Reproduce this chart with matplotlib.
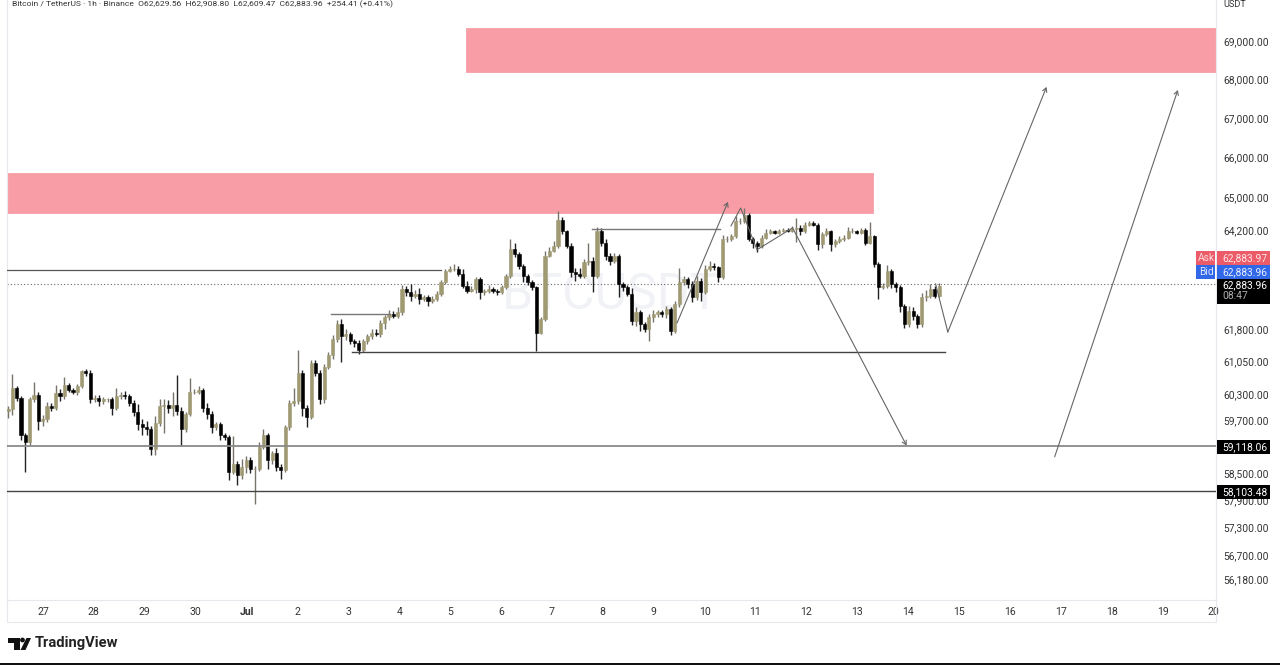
import numpy as np
import matplotlib
matplotlib.use("Agg")
import matplotlib.pyplot as plt
from matplotlib.patches import Circle, Polygon, Rectangle

plt.rcParams["font.family"] = ["Roboto", "DejaVu Sans"]

# candles, about 2h apart, open = previous close
start_day = -0.688
bar_days = 0.0851
first_open = 59900
closes = [
    59940, 60430, 60200, 59350, 59200, 60170, 60280, 59680, 59720, 60020,
    59980, 60320, 60240, 60510, 60390, 60350, 60470, 60820, 60780, 60170,
    60200, 60130, 60170, 60170, 59980, 60240, 60280, 60240, 60090, 59870,
    59610, 59530, 59500, 59050, 59640, 60020, 60050, 59980, 60050, 59910,
    59500, 59830, 60350, 60350, 60390, 59980, 59830, 59530, 59610, 59350,
    59310, 58530, 58710, 58450, 58640, 58790, 58600, 58600, 59090, 59350,
    58790, 58940, 58640, 58560, 59530, 60090, 60130, 60780, 59980, 59760,
    61020, 60780, 60170,
    60924, 61204, 61564, 61924, 61644, 61684, 61524, 61484, 61324, 61524,
    61644, 61724, 61684, 61964, 62084, 62164, 62124, 62204, 62764, 62684,
    62604, 62644, 62524, 62564, 62484, 62524, 62644, 62924, 63204, 63244,
    63244, 63124, 62844, 62724, 62764, 63004, 62684, 62724, 62764, 62724,
    62684, 62804, 63084, 63724, 63604, 63324, 63084, 62924, 62804, 61724,
    62044, 63564, 63684, 63804, 64444, 64164, 63804, 63164, 63124, 63084,
    63404, 63444, 63084, 64164, 63884, 63564, 63444, 63564, 62884, 62804,
    62644, 62004, 62204, 61924, 61804,
    62084, 62164, 62204, 62164, 62284, 61764, 62404, 62924, 63004, 62884,
    62564, 62964, 62684, 63244, 63324, 63284, 63044, 63964, 63964, 64044,
    64404, 64404, 64564, 63964, 63884, 63804, 64004, 64124, 64164, 64124,
    64164, 64204, 64164, 64220, 64244, 64164, 64324, 64364, 64324, 63844,
    64084, 64164, 63844, 63924, 63964, 64004, 64164, 64164, 64124, 64204,
    63884, 64044, 63364, 62804, 62844, 63204, 62884, 62804, 62364, 61924,
    62244, 62124, 61924, 62564, 62604, 62764, 62604, 62844,
]
upper_wick = [
    80, 320, 60, 40, 60, 50, 280, 60, 100, 80,
    60, 180, 90, 180, 40, 50, 60, 40, 60, 70,
    60, 70, 60, 40, 50, 190, 60, 80, 60, 60,
    200, 120, 150, 60, 150, 160, 120, 100, 300, 690,
    80, 60, 320, 60, 100, 40, 100, 70, 50, 50,
    60, 40, 620, 50, 180, 100, 70, 60, 100, 140,
    60, 50, 120, 60, 50, 70, 300, 530, 60, 60,
    70, 60, 80,
    60, 60, 100, 100, 120, 120, 60, 50, 70, 60,
    60, 80, 90, 60, 60, 100, 80, 130, 100, 60,
    200, 100, 150, 60, 60, 80, 60, 60, 40, 80,
    120, 80, 110, 100, 60, 40, 40, 30, 100, 40,
    50, 60, 40, 250, 150, 60, 40, 50, 60, 40,
    60, 120, 100, 110, 220, 60, 40, 60, 100, 150,
    80, 440, 80, 100, 70, 100, 60, 70, 40, 40,
    60, 150, 120, 60, 50,
    80, 90, 60, 50, 80, 40, 60, 336, 60, 40,
    60, 120, 60, 100, 120, 60, 40, 100, 70, 60,
    130, 90, 180, 50, 60, 40, 60, 100, 60, 40,
    50, 40, 30, 60, 240, 60, 60, 50, 40, 30,
    70, 80, 40, 60, 70, 60, 100, 80, 40, 40,
    30, 340, 30, 40, 70, 130, 50, 40, 60, 30,
    120, 80, 30, 100, 130, 130, 80, 70,
]
lower_wick = [
    150, 120, 60, 100, 670, 80, 50, 200, 120, 60,
    80, 60, 100, 50, 60, 60, 80, 40, 60, 90,
    60, 100, 70, 60, 170, 60, 70, 60, 60, 80,
    150, 180, 150, 150, 150, 70, 620, 120, 200, 100,
    400, 80, 50, 60, 50, 100, 100, 120, 60, 100,
    70, 180, 60, 210, 80, 130, 100, 780, 60, 60,
    190, 80, 90, 200, 40, 60, 60, 60, 200, 220,
    50, 80, 100,
    80, 60, 100, 60, 600, 100, 70, 100, 100, 60,
    60, 70, 50, 60, 150, 60, 60, 50, 60, 90,
    120, 50, 110, 60, 120, 60, 40, 40, 50, 30,
    40, 50, 60, 50, 40, 90, 170, 60, 50, 60,
    70, 40, 40, 50, 60, 70, 150, 60, 70, 440,
    40, 50, 40, 40, 50, 60, 40, 120, 160, 60,
    60, 70, 400, 50, 80, 110, 100, 60, 320, 100,
    60, 100, 120, 150, 60,
    280, 100, 70, 60, 90, 100, 50, 60, 70, 100,
    120, 60, 200, 40, 50, 60, 110, 40, 60, 50,
    40, 60, 50, 50, 130, 160, 60, 40, 30, 40,
    30, 30, 30, 30, 320, 90, 40, 30, 30, 130,
    80, 40, 170, 60, 50, 30, 40, 50, 30, 30,
    60, 40, 60, 280, 40, 50, 90, 110, 160, 80,
    60, 100, 100, 60, 80, 60, 50, 40,
]

# axis labels
price_ticks = [69000, 68000, 67000, 66000, 65000, 64200, 61800, 61050, 60300, 59700,
               58500, 57900, 57300, 56700, 56180]
day_ticks = list(range(24))
day_labels = ["27", "28", "29", "30", "Jul", "2", "3", "4", "5", "6", "7", "8", "9", "10",
              "11", "12", "13", "14", "15", "16", "17", "18", "19", "20"]

# drawn levels and zones (day, price)
last_price = 62883.96
zone_upper = [8.31, 23.05, 68188, 69343]
zone_lower = [-0.71, 16.31, 64613, 65607]
level_a = [-0.71, 7.82, 63220]
level_b = [5.66, 6.82, 62170]
level_c = [6.07, 17.72, 61275]
level_d = [10.79, 13.30, 64220]
level_e = 59118.06
level_f = 58103.48
arrow_up_x = [12.46, 13.46]
arrow_up_y = [61954, 64887]
zigzag_x = [13.52, 13.71, 14.03, 14.73, 16.97]
zigzag_y = [64295, 64735, 63710, 64245, 59118]
swing_x = [17.54, 17.78, 19.72]
swing_y = [62884, 61740, 67800]
long_x = [19.88, 22.30]
long_y = [58865, 67720]

W, H = 1280, 665
fig = plt.figure(figsize=(W / 100, H / 100), dpi=100, facecolor="white")
ax = fig.add_axes([7 / W, 1 - 600 / H, 1209 / W, 600 / H])
ax.set_yscale("log")
ax.set_xlim(-0.707, 23.05)
ax.set_ylim(55731, 70089)

closes = np.array(closes, dtype=float)
opens = np.r_[first_open, closes[:-1]]
xs = start_day + np.arange(len(closes)) * bar_days
tops = np.maximum(opens, closes)
bottoms = np.minimum(opens, closes)
highs = tops + np.array(upper_wick)
lows = bottoms - np.array(lower_wick)
up = closes >= opens

tan = "#a09a72"
ax.vlines(xs[up], lows[up], highs[up], color="#77756a", lw=1.0, zorder=3)
ax.vlines(xs[~up], lows[~up], highs[~up], color="#222222", lw=1.0, zorder=3)
ax.bar(xs[up], tops[up] - bottoms[up], bottom=bottoms[up], width=0.062, color=tan,
       edgecolor=tan, lw=0.4, zorder=4)
ax.bar(xs[~up], tops[~up] - bottoms[~up], bottom=bottoms[~up], width=0.062, color="black",
       edgecolor="black", lw=0.4, zorder=4)

# zones
for z in (zone_upper, zone_lower):
    ax.add_patch(Rectangle((z[0], z[2]), z[1] - z[0], z[3] - z[2], facecolor="#f89da5",
                           edgecolor="#f4a0a8", lw=0.6, zorder=2))

# levels
ax.axhline(last_price, color="#666666", lw=0.8, ls=(0, (1, 2)), zorder=2)
for lv, c, w in ((level_a, "#555555", 0.9), (level_b, "#777777", 1.0),
                 (level_c, "#444444", 1.0), (level_d, "#777777", 1.0)):
    ax.plot(lv[:2], [lv[2], lv[2]], color=c, lw=w, zorder=5)
ax.axhline(level_e, color="#8a8a8a", lw=1.3, zorder=5)
ax.axhline(level_f, color="#444444", lw=1.0, zorder=5)

# arrows
line_col = "#666666"
def path_arrow(px, py):
    ax.plot(px[:-1], py[:-1], color=line_col, lw=0.8, zorder=6)
    ax.annotate("", xy=(px[-1], py[-1]), xytext=(px[-2], py[-2]), zorder=6,
                arrowprops=dict(arrowstyle="->,head_length=0.28,head_width=0.16", color=line_col,
                                lw=0.8, shrinkA=0, shrinkB=0))

path_arrow(arrow_up_x, arrow_up_y)
path_arrow(zigzag_x, zigzag_y)
path_arrow(swing_x, swing_y)
path_arrow(long_x, long_y)

# axes look
ax.yaxis.tick_right()
ax.set_yticks(price_ticks)
ax.set_yticklabels([f"{p:,.2f}" for p in price_ticks], fontsize=7.4, color="#333333")
ax.minorticks_off()
ax.tick_params(axis="y", length=0, pad=5)
ax.set_xticks(day_ticks)
ax.set_xticklabels(day_labels, fontsize=7.6, color="#333333")
ax.get_xticklabels()[4].set_fontweight("bold")
ax.tick_params(axis="x", length=0, pad=5)
ax.spines["top"].set_visible(False)
for name in ("left", "right", "bottom"):
    ax.spines[name].set_color("#e6e8ee")
    ax.spines[name].set_linewidth(0.8)

def px_text(x, y, s, **kw):
    return fig.text(x / W, 1 - y / H, s, va="center", **kw)

def px_box(x0, y0, x1, y1, color, **kw):
    fig.add_artist(Rectangle((x0 / W, 1 - y1 / H), (x1 - x0) / W, (y1 - y0) / H, facecolor=color,
                             edgecolor="none", transform=fig.transFigure, zorder=8, **kw))

# watermark
ax.text(0.4996, 0.508, "BTCUSDT", transform=ax.transAxes, fontsize=36,
        color="#f0f2f6", ha="center", va="center", zorder=1)

# header
px_text(12, 4.5, "Bitcoin / TetherUS · 1h · Binance  O62,629.56  H62,908.80  L62,609.47  C62,883.96  +254.41 (+0.41%)",
        fontsize=6.1, color="#333333")
px_text(1235, 4.5, "USDT", fontsize=6.6, color="#333333", ha="center")

# price labels
px_box(1196, 251, 1215, 265, "#ec5c68")
px_box(1217, 251, 1270, 265, "#ec5c68")
px_box(1196, 265, 1215, 279, "#3168e8")
px_box(1217, 265, 1270, 279, "#3168e8")
px_box(1217, 279, 1270, 304, "black")
px_box(1217, 440, 1270, 454, "black")
px_box(1217, 485, 1270, 499, "black")
labels = [(1206, 258, "Ask", "#ffd9dc", "center"), (1222, 258, "62,883.97", "#ffe5e7", "left"),
          (1206, 272, "Bid", "#dfe7ff", "center"), (1222, 272, "62,883.96", "#e8eeff", "left"),
          (1222, 285, "62,883.96", "white", "left"), (1222, 296, "08:47", "#b0b0b0", "left"),
          (1222, 447, "59,118.06", "white", "left"), (1222, 492, "58,103.48", "white", "left")]
for x, y, s, c, ha in labels:
    px_text(x, y, s, fontsize=7.4, color=c, ha=ha, zorder=9)

# footer
fig.add_artist(plt.Line2D([7 / W, 1216 / W], [1 - 622 / H] * 2, color="#e6e8ee", lw=0.8))
fig.add_artist(plt.Line2D([7 / W, 7 / W], [1 - 622 / H, 1 - 600 / H], color="#e6e8ee", lw=0.8))
fig.add_artist(plt.Line2D([1216 / W, 1216 / W], [1 - 622 / H, 1 - 600 / H], color="#e6e8ee", lw=0.8))
fig.add_artist(Rectangle((0, 0), 1, 2.5 / H, facecolor="#111111", edgecolor="none", transform=fig.transFigure))
px_box(8, 638, 19.5, 642.5, "#111111")
px_box(13.5, 638, 19.5, 650, "#111111")
fig.add_artist(Circle((22.5, H - 640), 2.4, transform=None, facecolor="#111111", edgecolor="none"))
fig.add_artist(Polygon([(26.5, H - 638), (31, H - 638), (25.5, H - 650), (20.5, H - 650)], closed=True,
                       transform=None, facecolor="#111111", edgecolor="none"))
px_text(34.5, 643.5, "TradingView", fontsize=10.6, fontweight="bold", color="#222222")

fig.savefig("out.png", dpi=100)
